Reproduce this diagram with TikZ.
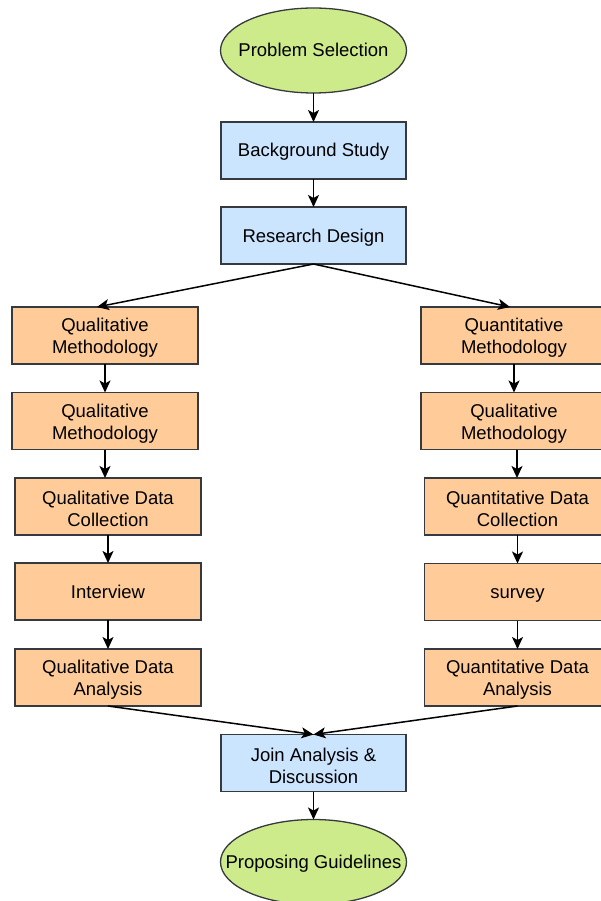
\documentclass[tikz,border=0pt]{standalone}
\usepackage{fontspec}
\setmainfont{Liberation Sans}
\usetikzlibrary{shapes.geometric,arrows.meta}
\definecolor{cgreen}{HTML}{CDEB8B}
\definecolor{cblue}{HTML}{CCE5FF}
\definecolor{corange}{HTML}{FFCC99}
\definecolor{cstroke}{HTML}{36393D}
\newcommand{\zw}[1]{\makebox[0pt]{#1}}
\newcommand{\tl}[2]{\rule{0pt}{18.5pt}#1\\#2}
\tikzset{
  base/.style={draw=cstroke, line width=1.3pt, align=center, inner sep=0pt, outer sep=0pt,
    font=\fontsize{18.5}{22}\selectfont, text=black},
  oneline/.style={text height=13pt, text depth=0pt},
  oval/.style={base, oneline, ellipse, fill=cgreen, minimum width=186pt, minimum height=85pt},
  bluebox/.style={base, rectangle, fill=cblue, minimum width=185pt, minimum height=57pt},
  orangebox/.style={base, rectangle, fill=corange, minimum width=186pt, minimum height=57pt},
  arr/.style={line width=1.5pt, -{Stealth[length=12pt,width=11pt,inset=3pt]}}
}
\begin{document}
\begin{tikzpicture}[x=1pt,y=-1pt]
\useasboundingbox (0,0) rectangle (601,901);
\node[oval] (ps) at (313.5,50.5) {\zw{Problem Selection}};
\node[bluebox,oneline] (bs) at (313.5,150.5) {Background Study};
\node[bluebox,oneline] (rd) at (313.5,235.5) {Research Design};
\node[orangebox] (lq1) at (105,335.5) {\tl{Qualitative}{Methodology}};
\node[orangebox] (lq2) at (105,421) {\tl{Qualitative}{Methodology}};
\node[orangebox] (lc) at (108,506.5) {\tl{Qualitative Data}{Collection}};
\node[orangebox,oneline] (li) at (108,591.5) {Interview};
\node[orangebox] (la) at (108,677.5) {\tl{Qualitative Data}{Analysis}};
\node[orangebox] (rq1) at (514,335.5) {\tl{Quantitative}{Methodology}};
\node[orangebox] (rq2) at (514,421) {\tl{Qualitative}{Methodology}};
\node[orangebox] (rc) at (517.5,506.5) {\tl{Quantitative Data}{Collection}};
\node[orangebox,oneline] (rs) at (517.5,592) {survey};
\node[orangebox] (ra) at (517.5,677.5) {\tl{Quantitative Data}{Analysis}};
\node[bluebox] (ja) at (313.5,763) {\tl{Join Analysis \&}{Discussion}};
\node[oval] (pg) at (313.5,862) {\zw{Proposing Guidelines}};
\draw[arr] (ps) -- (bs);
\draw[arr] (bs) -- (rd);
\draw[arr] (rd.south) -- ([xshift=-8pt]lq1.north);
\draw[arr] (rd.south) -- ([xshift=-4pt]rq1.north);
\draw[arr] (lq1) -- (lq2);
\draw[arr] (lq2.south) -- (lq2.south |- lc.north);
\draw[arr] (lc) -- (li);
\draw[arr] (li) -- (la);
\draw[arr] (rq1) -- (rq2);
\draw[arr] ([xshift=3pt]rq2.south) -- ([xshift=3pt]rq2.south |- rc.north);
\draw[arr] (rc) -- (rs);
\draw[arr] (rs) -- (ra);
\draw[arr] (la.south) -- (ja.north);
\draw[arr] (ra.south) -- (ja.north);
\draw[arr] (ja) -- (pg);
\end{tikzpicture}
\end{document}
